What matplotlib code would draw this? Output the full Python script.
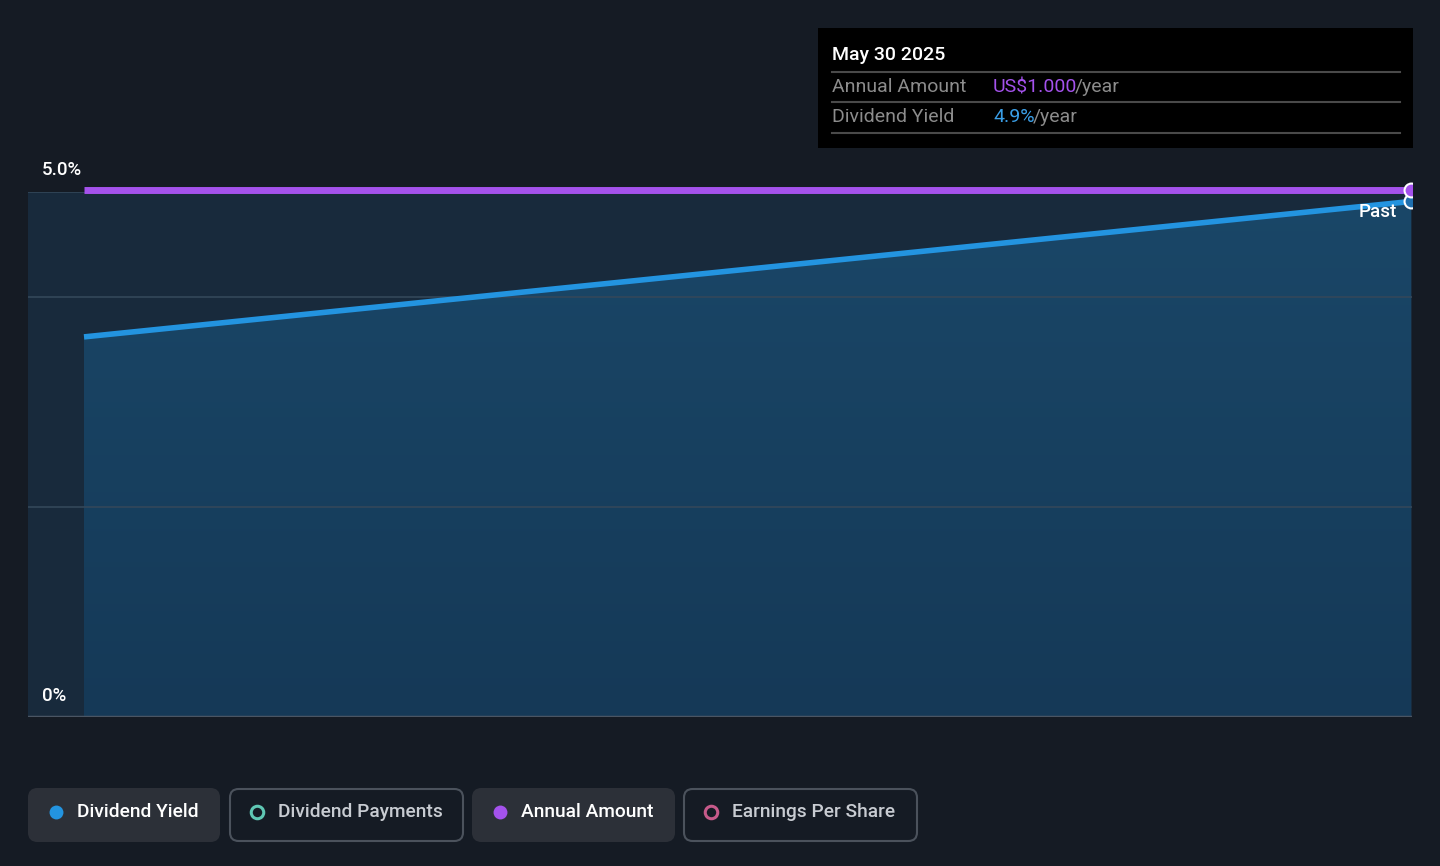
import matplotlib
matplotlib.use("Agg")
import matplotlib.pyplot as plt
from matplotlib.patches import FancyBboxPatch, Rectangle
from matplotlib.colors import LinearSegmentedColormap
import numpy as np

plt.rcParams['font.family'] = ['Roboto', 'DejaVu Sans']

# data
dates = ["2024-06-03", "2025-05-30"]
dividend_yield = [3.62, 4.91]        # %
annual_amount = [1.000, 1.000]       # US$/year
y_tick_labels = ["0%", "5.0%"]
legend_items = ["Dividend Yield", "Dividend Payments", "Annual Amount", "Earnings Per Share"]
tip_date = "May 30 2025"
tip_amount = "US$1.000"
tip_yield = "4.9%"

BG = "#151b24"
PLOT_BG = "#182a3c"
BLUE = "#2394e0"
PURPLE = "#a452ec"
GRID = "#33475a"

W, H = 1440, 866
fig = plt.figure(figsize=(14.4, 8.66), dpi=100)
fig.patch.set_facecolor(BG)

def fx(px):
    return px / W

def fy(py):
    return 1 - py / H

left, right, top, bottom = 28, 1412, 192, 717
ax = fig.add_axes([fx(left), fy(bottom), fx(right - left), (bottom - top) / H])
ax.set_facecolor(PLOT_BG)

x = np.arange(len(dates))
# first point at pixel 84, last at 1411
scale = (1411 - 84) / (x[-1] - x[0])
ax.set_xlim(x[0] - (84 - left) / scale, x[-1] + (right - 1411) / scale)
ax.set_ylim(0, 5)

# gradient fill under the yield line
grad = np.linspace(0, 1, 256).reshape(-1, 1)
cmap = LinearSegmentedColormap.from_list("g", ["#153957", "#1a4768"])
im = ax.imshow(grad, cmap=cmap, aspect="auto", origin="lower",
               extent=[x[0], x[-1], 0, 5], zorder=1)
poly = ax.fill_between(x, dividend_yield, 0, color="none", zorder=1)
im.set_clip_path(poly.get_paths()[0], transform=ax.transData)

for g in [2, 4, 5]:
    ax.axhline(g, color=GRID, lw=1.2, zorder=2)
ax.axhline(0, color="#4a5563", lw=2.5, zorder=2)

ax.plot(x, dividend_yield, color=BLUE, lw=4, zorder=4, solid_capstyle="butt")
ax.plot(x[-1], dividend_yield[-1], "o", ms=10, mfc="#1f6fae", mec="white", mew=1.5, zorder=5)

ax2 = ax.twinx()
ax2.set_ylim(0, 0.996)
ax2.plot(x, annual_amount, color=PURPLE, lw=5, zorder=4, clip_on=False, solid_capstyle="butt")
mk = ax2.plot(x[-1], annual_amount[-1], "o", ms=10, mfc=PURPLE, mec="white", mew=1.5, zorder=6)[0]
clip = Rectangle((fx(left), fy(bottom)), fx(right - left), (bottom - top + 12) / H,
                 transform=fig.transFigure, facecolor="none", edgecolor="none")
fig.patches.append(clip)
mk.set_clip_path(clip)

for a in (ax, ax2):
    a.set_xticks([])
    a.set_yticks([])
    for s in a.spines.values():
        s.set_visible(False)

# y labels
fig.text(fx(42), fy(170), y_tick_labels[1], color="white", fontsize=13.5, va="center", ha="left",
         fontweight="medium")
fig.text(fx(42), fy(696), y_tick_labels[0], color="white", fontsize=13.5, va="center", ha="left",
         fontweight="medium")
fig.text(fx(1397), fy(212), "Past", color="white", fontsize=13.5, va="center", ha="right",
         zorder=10, fontweight="medium")

# tooltip
fig.patches.append(Rectangle((fx(818), fy(148)), fx(1413 - 818), (148 - 28) / H,
                             transform=fig.transFigure, facecolor="black", edgecolor="none", zorder=1))
fig.text(fx(832), fy(55), tip_date, color="white", fontsize=14, va="center", ha="left",
         fontweight="medium")
for yy in [72, 102, 133]:
    fig.lines.append(plt.Line2D([fx(832), fx(1400)], [fy(yy), fy(yy)], transform=fig.transFigure,
                                color="#4a4a4a", lw=1.5))
GREY = "#8c8c8c"
fig.text(fx(832), fy(87), "Annual Amount", color=GREY, fontsize=14, va="center")
fig.text(fx(832), fy(117), "Dividend Yield", color=GREY, fontsize=14, va="center")
t1 = fig.text(fx(993), fy(87), tip_amount, color=PURPLE, fontsize=14, va="center")
fig.add_artist(plt.Annotation("/year", xy=(1, 0.5), xycoords=t1, xytext=(-1.5, 0),
                              textcoords="offset points", va="center", ha="left",
                              color=GREY, fontsize=14))
t2 = fig.text(fx(993), fy(117), tip_yield, color="#3a9ee6", fontsize=14, va="center")
fig.add_artist(plt.Annotation("/year", xy=(1, 0.5), xycoords=t2, xytext=(-1.5, 0),
                              textcoords="offset points", va="center", ha="left",
                              color=GREY, fontsize=14))

# legend buttons
buttons = [(28, 220, True, BLUE, True), (229, 464, False, "#5fc7b4", False),
           (472, 675, True, PURPLE, True), (683, 918, False, "#c65a8a", False)]
for (x0, x1, filled, mc, mfill), label in zip(buttons, legend_items):
    box = FancyBboxPatch((fx(x0 + 1), fy(841)), fx(x1 - x0 - 2), 52 / H,
                         boxstyle="round,pad=0,rounding_size=0.006",
                         transform=fig.transFigure,
                         facecolor="#2c3038" if filled else BG,
                         edgecolor="#2c3038" if filled else "#4b525c", lw=1.5,
                         mutation_aspect=W / H)
    fig.patches.append(box)
    fig.lines.append(plt.Line2D([fx(x0 + 28)], [fy(812)], transform=fig.transFigure, marker="o",
                                ms=10 if mfill else 9, mfc=mc if mfill else "none", mec=mc,
                                mew=0 if mfill else 2.2, ls="none"))
    fig.text(fx(x0 + 49), fy(812), label, color="white" if filled else "#c8ccd2",
             fontsize=13.8, va="center", ha="left", fontweight="medium")

fig.savefig("out.png", dpi=100, facecolor=BG)
